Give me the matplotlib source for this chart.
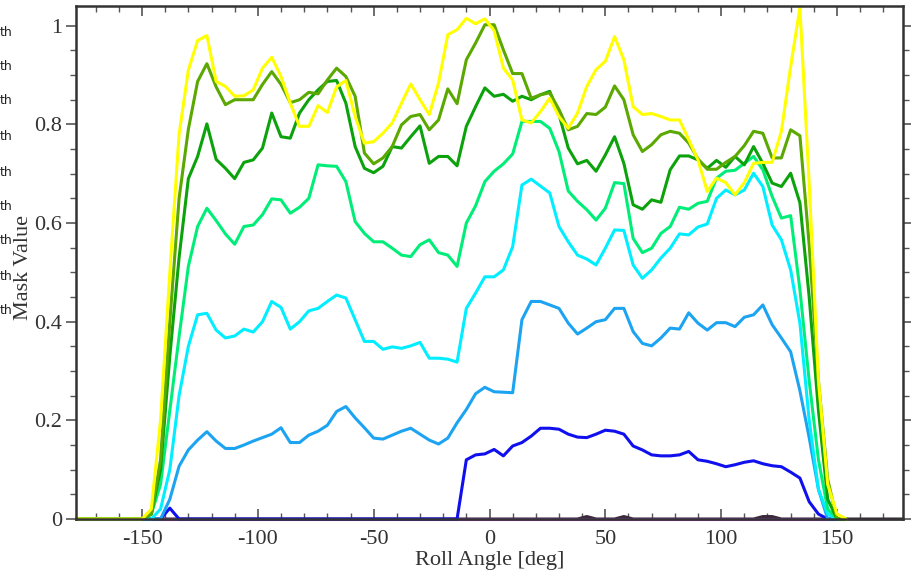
import numpy as np
import matplotlib
matplotlib.use('Agg')
import matplotlib.pyplot as plt
from matplotlib.ticker import MultipleLocator, FuncFormatter

# roll angle bin centres [deg], 4 deg bins
angles = np.arange(-178, 179, 4)

# values from -146 to 150 deg (75 bins); outside that the masks are zero
yellow = [0.02, 0.20, 0.50, 0.78, 0.91, 0.97, 0.98, 0.887, 0.877, 0.857,
          0.858, 0.87, 0.914, 0.936, 0.897, 0.843, 0.796, 0.796, 0.838, 0.824,
          0.876, 0.889, 0.816, 0.762, 0.765, 0.782, 0.803, 0.843, 0.882, 0.85,
          0.82, 0.884, 0.982, 0.992, 1.015, 1.004, 1.014, 0.99, 0.914, 0.89,
          0.809, 0.803, 0.826, 0.853, 0.816, 0.792, 0.823, 0.877, 0.911, 0.928,
          0.978, 0.931, 0.836, 0.82, 0.822, 0.816, 0.809, 0.809, 0.769, 0.728,
          0.664, 0.691, 0.682, 0.657, 0.682, 0.721, 0.723, 0.723, 0.786, 0.917,
          1.037, 0.68, 0.28, 0.07, 0.01]
olive = [0.01, 0.12, 0.40, 0.65, 0.79, 0.887, 0.923, 0.876, 0.84, 0.85,
         0.85, 0.85, 0.881, 0.907, 0.881, 0.844, 0.85, 0.865, 0.862, 0.89,
         0.914, 0.897, 0.857, 0.742, 0.72, 0.732, 0.755, 0.799, 0.816, 0.82,
         0.789, 0.809, 0.872, 0.842, 0.931, 0.965, 1.002, 1.002, 0.951, 0.903,
         0.903, 0.853, 0.86, 0.864, 0.83, 0.789, 0.796, 0.822, 0.82, 0.835,
         0.878, 0.85, 0.779, 0.745, 0.759, 0.779, 0.786, 0.782, 0.762, 0.73,
         0.709, 0.709, 0.723, 0.735, 0.757, 0.786, 0.782, 0.732, 0.732, 0.789,
         0.777, 0.556, 0.28, 0.08, 0.0]
green = [0.01, 0.10, 0.33, 0.53, 0.69, 0.735, 0.801, 0.729, 0.711, 0.69,
         0.723, 0.728, 0.752, 0.823, 0.775, 0.772, 0.823, 0.85, 0.87, 0.887,
         0.889, 0.843, 0.755, 0.711, 0.702, 0.715, 0.755, 0.752, 0.775, 0.797,
         0.721, 0.735, 0.735, 0.716, 0.796, 0.836, 0.874, 0.857, 0.861, 0.847,
         0.857, 0.85, 0.86, 0.867, 0.82, 0.752, 0.72, 0.727, 0.705, 0.738,
         0.775, 0.721, 0.637, 0.628, 0.647, 0.642, 0.708, 0.736, 0.736, 0.728,
         0.711, 0.727, 0.713, 0.735, 0.718, 0.755, 0.721, 0.681, 0.674, 0.701,
         0.641, 0.45, 0.22, 0.04, 0.0]
spring = [0.01, 0.07, 0.22, 0.37, 0.512, 0.593, 0.63, 0.605, 0.578, 0.557,
          0.593, 0.596, 0.617, 0.649, 0.647, 0.62, 0.632, 0.65, 0.718, 0.716,
          0.715, 0.684, 0.603, 0.579, 0.562, 0.562, 0.549, 0.535, 0.532, 0.556,
          0.566, 0.54, 0.535, 0.512, 0.6, 0.635, 0.684, 0.705, 0.72, 0.74,
          0.806, 0.806, 0.806, 0.792, 0.745, 0.665, 0.644, 0.627, 0.606, 0.63,
          0.682, 0.68, 0.569, 0.54, 0.549, 0.579, 0.593, 0.632, 0.628, 0.64,
          0.644, 0.691, 0.705, 0.707, 0.721, 0.735, 0.708, 0.654, 0.61, 0.615,
          0.465, 0.28, 0.12, 0.02, 0.0]
cyan = [0.0, 0.02, 0.10, 0.25, 0.35, 0.414, 0.417, 0.383, 0.367, 0.371,
        0.385, 0.379, 0.40, 0.441, 0.429, 0.385, 0.40, 0.422, 0.427, 0.441,
        0.454, 0.448, 0.404, 0.36, 0.36, 0.344, 0.349, 0.346, 0.351, 0.358,
        0.326, 0.326, 0.324, 0.318, 0.427, 0.458, 0.491, 0.491, 0.505, 0.552,
        0.677, 0.689, 0.675, 0.661, 0.593, 0.562, 0.535, 0.527, 0.515, 0.549,
        0.586, 0.585, 0.515, 0.488, 0.505, 0.529, 0.549, 0.578, 0.576, 0.592,
        0.598, 0.65, 0.667, 0.657, 0.667, 0.701, 0.674, 0.596, 0.566, 0.505,
        0.397, 0.20, 0.06, 0.01, 0.0]
lightblue = [0.0, 0.0, 0.04, 0.107, 0.14, 0.16, 0.177, 0.158, 0.143, 0.143,
             0.15, 0.158, 0.165, 0.172, 0.185, 0.155, 0.155, 0.17, 0.178, 0.19,
             0.218, 0.228, 0.205, 0.185, 0.164, 0.162, 0.17, 0.178, 0.184, 0.172,
             0.16, 0.152, 0.164, 0.195, 0.222, 0.254, 0.267, 0.258, 0.257, 0.256,
             0.404, 0.441, 0.441, 0.434, 0.427, 0.397, 0.375, 0.387, 0.40, 0.404,
             0.427, 0.427, 0.38, 0.356, 0.351, 0.367, 0.387, 0.385, 0.418, 0.397,
             0.383, 0.398, 0.398, 0.39, 0.409, 0.414, 0.434, 0.394, 0.367, 0.339,
             0.26, 0.165, 0.06, 0.0, 0.0]
blue = [0, 0, 0.022, 0, 0, 0, 0, 0, 0, 0,
        0, 0, 0, 0, 0, 0, 0, 0, 0, 0,
        0, 0, 0, 0, 0, 0, 0, 0, 0, 0,
        0, 0, 0, 0, 0.12, 0.13, 0.132, 0.141, 0.128, 0.148,
        0.155, 0.168, 0.184, 0.184, 0.182, 0.172, 0.166, 0.165, 0.172, 0.18,
        0.178, 0.172, 0.148, 0.14, 0.13, 0.128, 0.128, 0.13, 0.137, 0.12,
        0.117, 0.112, 0.106, 0.11, 0.115, 0.118, 0.112, 0.108, 0.106, 0.095,
        0.083, 0.035, 0.01, 0.0, 0.0]
purple = [0.0] * 75
# near-zero series, tiny bumps only
dark_bumps = {42: 0.005, 58: 0.005, 118: 0.005, 122: 0.005}

series = [
    (purple, '#9a2fc4'),
    (blue, '#1010ee'),
    (lightblue, '#1ca4f2'),
    (cyan, '#00eeff'),
    (spring, '#00ee78'),
    (green, '#0ca20c'),
    (olive, '#5aa800'),
    (yellow, '#ffff00'),
]

legend_rows = [32, 67, 101, 136, 172, 207, 241, 276, 310]

plt.rcParams['axes.unicode_minus'] = False
plt.rcParams['font.family'] = 'Liberation Serif'

fig = plt.figure(figsize=(9.11, 5.76), dpi=100)
ax = fig.add_axes([76 / 911, 1 - 519 / 576, 827 / 911, 513 / 576])

dark = np.zeros(len(angles))
for a, v in dark_bumps.items():
    dark[angles == a] = v
ax.plot(angles, dark, color='#3a2a3a', lw=2.2, clip_on=False)

for vals, col in series:
    y = np.full(len(angles), np.nan)
    y[:8] = 0.0
    y[8:83] = vals
    y[83] = 0.0
    ax.plot(angles, y, color=col, lw=2.2, clip_on=False)

ax.set_xlim(-178.5, 178.5)
ax.set_ylim(0, 1.04)
ax.set_xticks([-150, -100, -50, 0, 50, 100, 150])
ax.set_yticks([0, 0.2, 0.4, 0.6, 0.8, 1.0])
ax.xaxis.set_minor_locator(MultipleLocator(10))
ax.yaxis.set_minor_locator(MultipleLocator(0.05))
fmt = FuncFormatter(lambda v, p: '%g' % round(v, 3))
ax.xaxis.set_major_formatter(fmt)
ax.yaxis.set_major_formatter(fmt)

ax.tick_params(axis='x', which='both', direction='in', top=True, colors='#555555',
               labelcolor='#333333', labelsize=16, pad=8)
ax.tick_params(axis='y', which='both', direction='out', right=True, colors='#555555',
               labelcolor='#333333', labelsize=16, pad=3)
ax.tick_params(which='major', length=7, width=1.2)
ax.tick_params(which='minor', length=4, width=1.0)
for sp in ax.spines.values():
    sp.set_color('#333333')
    sp.set_linewidth(1.8)

ax.set_xlabel('Roll Angle [deg]', fontsize=16, color='#333333')
ax.xaxis.set_label_coords(0.5, -0.062)
ax.set_ylabel('Mask Value', fontsize=16, color='#333333')
ax.yaxis.set_label_coords(-0.052, 0.49)

for r in legend_rows:
    fig.text(0.0, 1 - r / 576, 'th', fontsize=9, family='DejaVu Sans',
             ha='left', va='center', color='#222222')

fig.savefig('out.png', dpi=100)
